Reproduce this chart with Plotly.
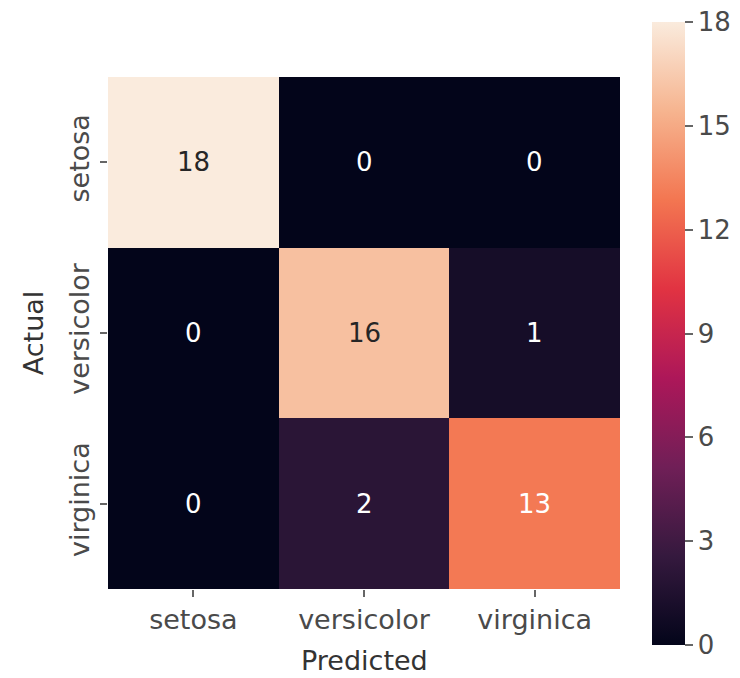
import plotly.graph_objects as go

# Data
predicted = ["setosa", "versicolor", "virginica"]
actual = ["setosa", "versicolor", "virginica"]
counts = [
    [18, 0, 0],
    [0, 16, 1],
    [0, 2, 13],
]
cbar_ticks = [0, 3, 6, 9, 12, 15, 18]

# seaborn "rocket" colormap (approx.)
rocket = [
    [0.0, "#03051a"],
    [1/7, "#35193e"],
    [2/7, "#701f57"],
    [3/7, "#ad1759"],
    [4/7, "#e13342"],
    [5/7, "#f37651"],
    [6/7, "#f6b48f"],
    [1.0, "#faebdd"],
]

FONT = "DejaVu Sans"
zmin, zmax = 0, 18

fig = go.Figure()
fig.add_trace(go.Heatmap(
    z=counts, x=predicted, y=actual,
    colorscale=rocket, zmin=zmin, zmax=zmax,
    showscale=True,
    colorbar=dict(
        x=1.0625, xanchor="left", xpad=0,
        y=0.499, yanchor="middle", ypad=0,
        len=623, lenmode="pixels",
        thickness=33, thicknessmode="pixels",
        outlinewidth=0,
        tickvals=cbar_ticks, ticktext=[str(v) for v in cbar_ticks],
        ticks="outside", ticklen=8, tickwidth=1.5, tickcolor="#666",
        ticklabeloverflow="allow",
        tickfont=dict(family=FONT, size=26, color="#4a4a4a"),
    ),
    hoverinfo="skip",
))

annotations = []
for i, a in enumerate(actual):
    for j, p in enumerate(predicted):
        v = counts[i][j]
        frac = (v - zmin) / (zmax - zmin)
        color = "#262626" if frac > 0.8 else "#ffffff"
        annotations.append(dict(
            x=p, y=a, xref="x", yref="y", text=str(v), showarrow=False,
            font=dict(family=FONT, size=26, color=color),
        ))

annotations.append(dict(
    x=-0.146, y=0.5, xref="paper", yref="paper", text="Actual",
    xanchor="center", yanchor="middle",
    showarrow=False, textangle=-90,
    font=dict(family=FONT, size=27, color="#333"),
))
annotations.append(dict(
    x=0.5, y=-0.1387, xref="paper", yref="paper", text="Predicted",
    xanchor="center", yanchor="middle",
    showarrow=False,
    font=dict(family=FONT, size=27, color="#333"),
))

fig.update_layout(
    width=732, height=670,
    margin=dict(l=100, r=120, t=69, b=89, autoexpand=False),
    paper_bgcolor="white", plot_bgcolor="white",
    annotations=annotations,
    xaxis=dict(
        showgrid=False, zeroline=False, showline=False,
        ticks="outside", ticklen=7, tickwidth=1.5, tickcolor="#666",
        tickfont=dict(family=FONT, size=27, color="#4a4a4a"),
        automargin=False,
    ),
    yaxis=dict(
        autorange="reversed",
        showgrid=False, zeroline=False, showline=False,
        ticks="outside", ticklen=7, tickwidth=1.5, tickcolor="#666",
        tickangle=-90,
        tickfont=dict(family=FONT, size=27, color="#4a4a4a"),
        automargin=False,
    ),
)

fig.write_html("out.html")
